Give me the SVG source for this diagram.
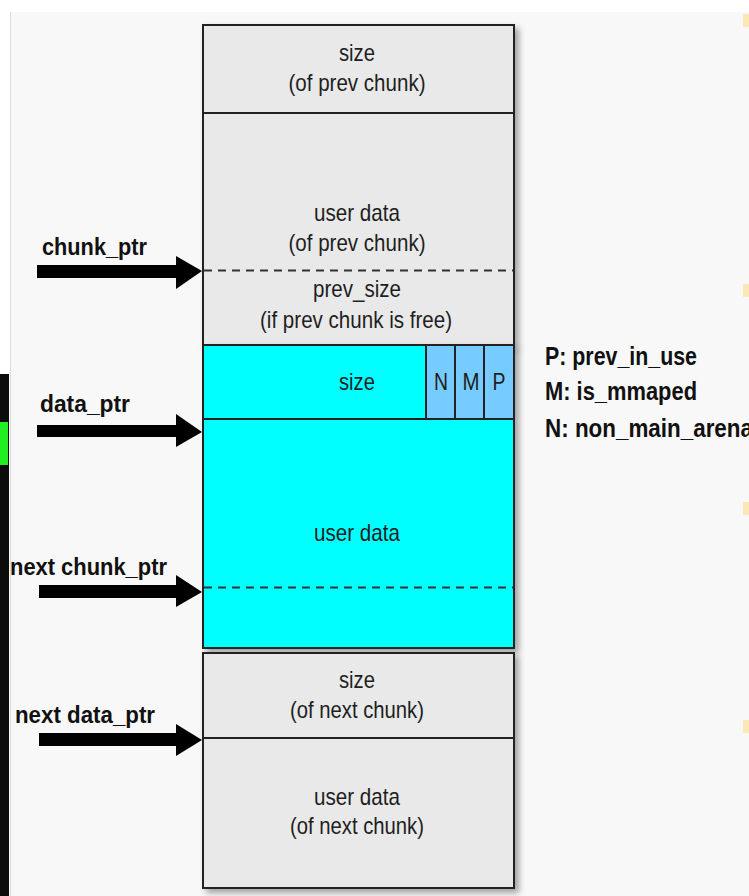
<svg xmlns="http://www.w3.org/2000/svg" width="749" height="896" viewBox="0 0 749 896">
<defs>
<style>
.box{stroke:#222;stroke-width:2}
.gray{fill:#e9e9e9}
.cyan{fill:#00ffff}
.flag{fill:#77ccff}
.dash{stroke:#333;stroke-width:1.8;stroke-dasharray:8 6;fill:none}
.t{font-family:"Liberation Sans",Arial,sans-serif;font-size:24px;fill:#1e1e1e;text-anchor:middle}
.lbl{font-family:"Liberation Sans",Arial,sans-serif;font-size:24px;font-weight:bold;fill:#111}
.leg{font-family:"Liberation Sans",Arial,sans-serif;font-size:26px;font-weight:bold;fill:#111}
.arrow{fill:#000}
.mark{fill:#fbe9b5}
</style>
<filter id="sh" x="-10%" y="-10%" width="130%" height="130%">
<feDropShadow dx="4" dy="4" stdDeviation="3" flood-color="#000" flood-opacity="0.35"/>
</filter>
</defs>
<rect x="0" y="0" width="749" height="896" fill="#f8f8f8"/>
<rect x="0" y="0" width="749" height="12" fill="#ffffff"/>
<rect x="0" y="0" width="10" height="374" fill="#ffffff"/>
<line x1="10.5" y1="12" x2="10.5" y2="896" stroke="#dcdcdc" stroke-width="1"/>
<rect x="0" y="374" width="9" height="522" fill="#0c0c0c"/>
<rect x="0" y="422" width="8" height="43" fill="#22ee22"/>
<rect class="mark" x="743" y="14" width="6" height="13"/>
<rect class="mark" x="743" y="284" width="6" height="13"/>
<rect class="mark" x="743" y="502" width="6" height="13"/>
<rect class="mark" x="743" y="720" width="6" height="13"/>

<g id="prev-chunk" filter="url(#sh)">
<rect class="box gray" x="203" y="25" width="311" height="88"/>
<rect class="box gray" x="203" y="113" width="311" height="232"/>
</g>
<g id="prev-chunk-text">
<text class="t" x="357" y="61" textLength="36" lengthAdjust="spacingAndGlyphs">size</text>
<text class="t" x="357" y="91" textLength="137" lengthAdjust="spacingAndGlyphs">(of prev chunk)</text>
<text class="t" x="357" y="221" textLength="86" lengthAdjust="spacingAndGlyphs">user data</text>
<text class="t" x="357" y="251" textLength="137" lengthAdjust="spacingAndGlyphs">(of prev chunk)</text>
<text class="t" x="357" y="297" textLength="88" lengthAdjust="spacingAndGlyphs">prev_size</text>
<text class="t" x="356" y="328" textLength="192" lengthAdjust="spacingAndGlyphs">(if prev chunk is free)</text>
</g>

<g id="chunk" filter="url(#sh)">
<rect class="box cyan" x="203" y="345" width="311" height="303"/>
</g>
<g id="chunk-size">
<line x1="203" y1="419" x2="514" y2="419" stroke="#222" stroke-width="2"/>
<text class="t" x="357" y="390" textLength="36" lengthAdjust="spacingAndGlyphs">size</text>
</g>
<g id="flags">
<rect class="box flag" x="426" y="345" width="29" height="74"/>
<rect class="box flag" x="455" y="345" width="29" height="74"/>
<rect class="box flag" x="484" y="345" width="30" height="74"/>
<text class="t" x="441" y="390" textLength="14" lengthAdjust="spacingAndGlyphs">N</text>
<text class="t" x="471" y="390" textLength="17" lengthAdjust="spacingAndGlyphs">M</text>
<text class="t" x="499" y="390" textLength="13" lengthAdjust="spacingAndGlyphs">P</text>
</g>
<g id="chunk-data">
<text class="t" x="357" y="541" textLength="86" lengthAdjust="spacingAndGlyphs">user data</text>
</g>

<g id="next-chunk" filter="url(#sh)">
<rect class="box gray" x="203" y="653" width="311" height="85"/>
<rect class="box gray" x="203" y="738" width="311" height="150"/>
</g>
<g id="next-chunk-text">
<text class="t" x="357" y="688" textLength="36" lengthAdjust="spacingAndGlyphs">size</text>
<text class="t" x="357" y="718" textLength="134" lengthAdjust="spacingAndGlyphs">(of next chunk)</text>
<text class="t" x="357" y="805" textLength="86" lengthAdjust="spacingAndGlyphs">user data</text>
<text class="t" x="357" y="834" textLength="134" lengthAdjust="spacingAndGlyphs">(of next chunk)</text>
</g>

<g id="legend">
<text class="leg" x="545" y="365" textLength="152" lengthAdjust="spacingAndGlyphs">P: prev_in_use</text>
<text class="leg" x="545" y="400" textLength="152" lengthAdjust="spacingAndGlyphs">M: is_mmaped</text>
<text class="leg" x="545" y="437" textLength="208" lengthAdjust="spacingAndGlyphs">N: non_main_arena</text>
</g>

<g id="connectors">
<line class="dash" x1="204" y1="270.5" x2="513" y2="270.5"/>
<line class="dash" x1="204" y1="587.5" x2="513" y2="587.5"/>
<polygon class="arrow" points="37,265 176,265 176,256 202,271 176,289 176,278 37,278"/>
<polygon class="arrow" points="37,425 176,425 176,414 202,432 176,447 176,437 37,437"/>
<polygon class="arrow" points="39,585 176,585 176,575 202,592 176,607 176,598 39,598"/>
<polygon class="arrow" points="39,733 176,733 176,724 202,740 176,756 176,746 39,746"/>
</g>
<g id="pointer-labels">
<text class="lbl" x="42" y="255" textLength="105" lengthAdjust="spacingAndGlyphs">chunk_ptr</text>
<text class="lbl" x="40" y="412" textLength="90" lengthAdjust="spacingAndGlyphs">data_ptr</text>
<text class="lbl" x="10" y="575" textLength="157" lengthAdjust="spacingAndGlyphs">next chunk_ptr</text>
<text class="lbl" x="15" y="723" textLength="140" lengthAdjust="spacingAndGlyphs">next data_ptr</text>
</g>
</svg>
